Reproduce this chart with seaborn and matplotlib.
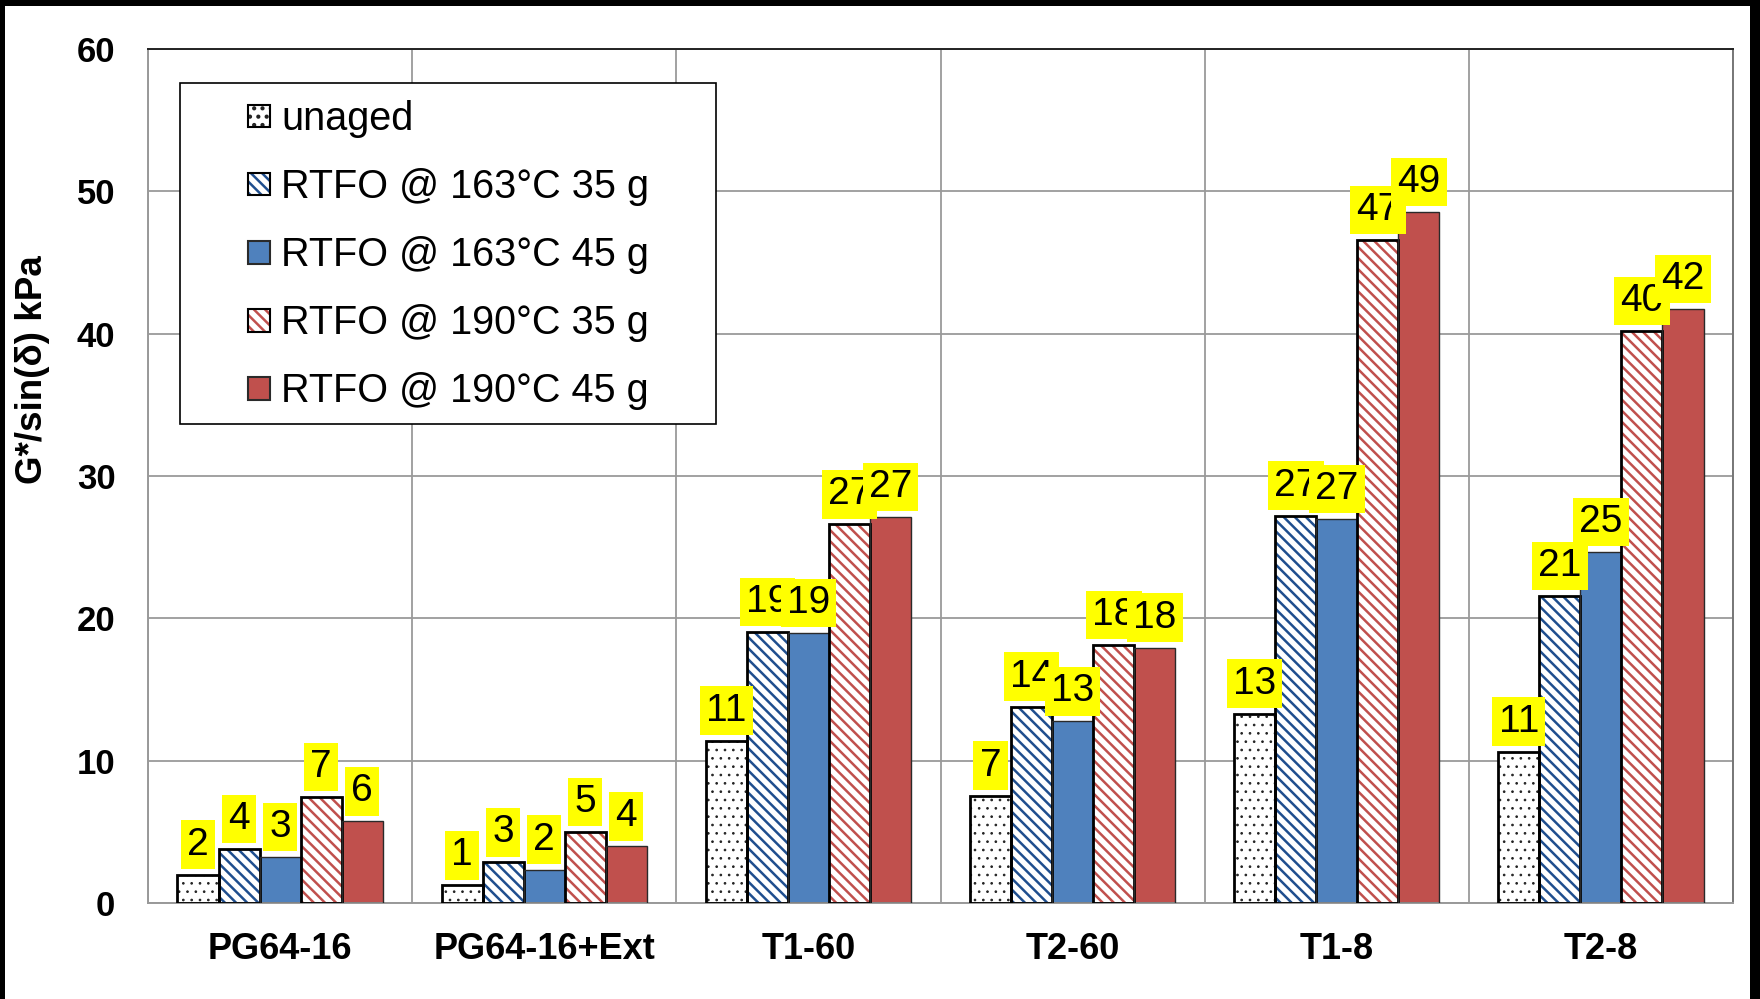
import numpy as np
import pandas as pd
import matplotlib
matplotlib.use("Agg")
import matplotlib.pyplot as plt
import seaborn as sns
from matplotlib.patches import Patch, Rectangle
from matplotlib.legend_handler import HandlerTuple

# ---------------- data ----------------
binders = ["PG64-16", "PG64-16+Ext", "T1-60", "T2-60", "T1-8", "T2-8"]
conditions = ["unaged", "RTFO @ 163°C 35 g", "RTFO @ 163°C 45 g",
              "RTFO @ 190°C 35 g", "RTFO @ 190°C 45 g"]
unaged     = [2.00, 1.24, 11.41, 7.55, 13.30, 10.63]
rtfo163_35 = [3.81, 2.85, 19.03, 13.80, 27.22, 21.58]
rtfo163_45 = [3.23, 2.34, 18.96, 12.76, 26.99, 24.65]
rtfo190_35 = [7.45, 4.99, 26.60, 18.13, 46.58, 40.17]
rtfo190_45 = [5.73, 3.97, 27.10, 17.94, 48.55, 41.73]
# data labels as printed on the chart
lab_unaged     = [2, 1, 11, 7, 13, 11]
lab_rtfo163_35 = [4, 3, 19, 14, 27, 21]
lab_rtfo163_45 = [3, 2, 19, 13, 27, 25]
lab_rtfo190_35 = [7, 5, 27, 18, 47, 40]
lab_rtfo190_45 = [6, 4, 27, 18, 49, 42]
yticks = [0, 10, 20, 30, 40, 50, 60]

series = [unaged, rtfo163_35, rtfo163_45, rtfo190_35, rtfo190_45]
labels = [lab_unaged, lab_rtfo163_35, lab_rtfo163_45, lab_rtfo190_35, lab_rtfo190_45]

df = pd.DataFrame({
    "binder": binders * len(conditions),
    "condition": np.repeat(conditions, len(binders)),
    "value": np.concatenate(series),
})

# ---------------- styles ----------------
fills = ["white", "white", "#4F81BD", "white", "#C0504D"]
hatches = ["..", "\\\\\\", None, "\\\\\\", None]
hatch_colors = ["#222222", "#1F4E8E", "#4F81BD", "#C0504D", "#C0504D"]
hatch_lw = [0.7, 1.8, 1.8, 1.8, 1.8]
edge_colors = ["black", "black", "#2A2A2A", "black", "#2A2A2A"]
edge_widths = [2.0, 2.0, 1.0, 2.0, 1.0]

sns.set_style("white")
plt.rcParams["font.family"] = ["Liberation Sans", "DejaVu Sans"]
plt.rcParams["hatch.linewidth"] = 1.8
plt.rcParams["text.color"] = "black"
plt.rcParams["axes.labelcolor"] = "black"
plt.rcParams["xtick.labelcolor"] = "black"
plt.rcParams["ytick.labelcolor"] = "black"

fig = plt.figure(figsize=(17.6, 9.99), dpi=100)
W, H = 1760, 999
ax = fig.add_axes([148 / W, 1 - 903 / H, (1733 - 148) / W, (903 - 49) / H])


def style_hatch(p, i):
    if hasattr(p, "set_hatch_linewidth"):
        p.set_hatch_linewidth(hatch_lw[i])


# fill + hatch layer
sns.barplot(data=df, x="binder", y="value", hue="condition", order=binders,
            hue_order=conditions, palette=dict(zip(conditions, fills)),
            saturation=1, width=0.777, gap=0, errorbar=None, legend=False, ax=ax)
for i, cont in enumerate(ax.containers):
    for p in cont:
        p.set_facecolor(fills[i])
        if hatches[i]:
            p.set_hatch(hatches[i])
        p.set_edgecolor(hatch_colors[i])
        p.set_linewidth(0)
        style_hatch(p, i)
        p.set_zorder(2)

# outline layer
n_before = len(ax.containers)
sns.barplot(data=df, x="binder", y="value", hue="condition", order=binders,
            hue_order=conditions, palette=dict(zip(conditions, fills)),
            saturation=1, width=0.777, gap=0, errorbar=None, legend=False,
            fill=False, ax=ax)
for i, cont in enumerate(ax.containers[n_before:]):
    for p in cont:
        p.set_fill(False)
        p.set_edgecolor(edge_colors[i])
        p.set_linewidth(edge_widths[i])
        p.set_zorder(3)

# data labels
for i, cont in enumerate(ax.containers[:n_before]):
    for j, p in enumerate(cont):
        ax.annotate(str(labels[i][j]),
                    xy=(p.get_x() + p.get_width() / 2, p.get_height()),
                    xytext=(0, 12), textcoords="offset pixels",
                    ha="center", va="bottom", fontsize=28, color="black",
                    bbox=dict(boxstyle="square,pad=0.16", fc="#FFFF00", ec="none"),
                    zorder=6 + i)

# axes
ax.set_xlim(-0.5, len(binders) - 0.5)
ax.set_ylim(0, 60)
ax.set_yticks(yticks)
ax.set_yticklabels([str(t) for t in yticks], fontsize=25, fontweight="bold")
ax.set_xticks(range(len(binders)))
ax.set_xticklabels(binders, fontsize=26, fontweight="bold")
ax.set_xticks(np.arange(-0.5, len(binders), 1.0), minor=True)
ax.tick_params(axis="x", which="major", length=0, pad=21, labelcolor="black")
ax.tick_params(axis="x", which="minor", length=9, width=1.2, color="#999999", direction="out")
ax.tick_params(axis="y", which="major", length=7.5, width=1.2, color="#999999",
               direction="out", pad=16, labelcolor="black")
ax.set_axisbelow(True)
ax.yaxis.grid(True, color="#9A9A9A", linewidth=1.3)
ax.xaxis.grid(True, which="minor", color="#9A9A9A", linewidth=1.3)
ax.xaxis.grid(False, which="major")
ax.set_xlabel("")
ax.set_ylabel("G*/sin(δ) kPa", fontsize=26.5, fontweight="bold", color="black")
ax.yaxis.set_label_coords(-0.062, 0.624)
for side, col in [("left", "#999999"), ("bottom", "#999999"),
                  ("top", "#222222"), ("right", "#777777")]:
    ax.spines[side].set_visible(True)
    ax.spines[side].set_color(col)
    ax.spines[side].set_linewidth(1.4)

# legend
frame = Rectangle(((180 - 148) / 1585, (903 - 424) / 854), (716 - 180) / 1585,
                  (424 - 83) / 854, transform=ax.transAxes, facecolor="white",
                  edgecolor="black", linewidth=1.2, zorder=4)
ax.add_patch(frame)
handles = []
for i in range(len(conditions)):
    base = Patch(facecolor=fills[i], hatch=hatches[i], edgecolor=hatch_colors[i], linewidth=0)
    style_hatch(base, i)
    edge = Patch(fill=False, edgecolor=edge_colors[i], linewidth=1.5)
    handles.append((base, edge))
leg = ax.legend(handles, conditions, handler_map={tuple: HandlerTuple(ndivide=1, pad=0)},
                loc="upper left", bbox_to_anchor=(248 / W, 1 - 100 / H),
                bbox_transform=fig.transFigure, frameon=False, fontsize=28.5,
                handlelength=0.56, handleheight=0.51, handletextpad=0.28,
                labelspacing=0.76, borderpad=0, borderaxespad=0)
leg.set_zorder(5)

# dark border of the original screenshot
fig.add_artist(Rectangle((0, 1 - 6 / H), 1, 6 / H, transform=fig.transFigure,
                         facecolor="black", edgecolor="none"))
fig.add_artist(Rectangle((0, 0), 5 / W, 1, transform=fig.transFigure,
                         facecolor="black", edgecolor="none"))
fig.add_artist(Rectangle((1 - 10 / W, 0), 10 / W, 1, transform=fig.transFigure,
                         facecolor="black", edgecolor="none"))

fig.savefig("out.png", dpi=100)
